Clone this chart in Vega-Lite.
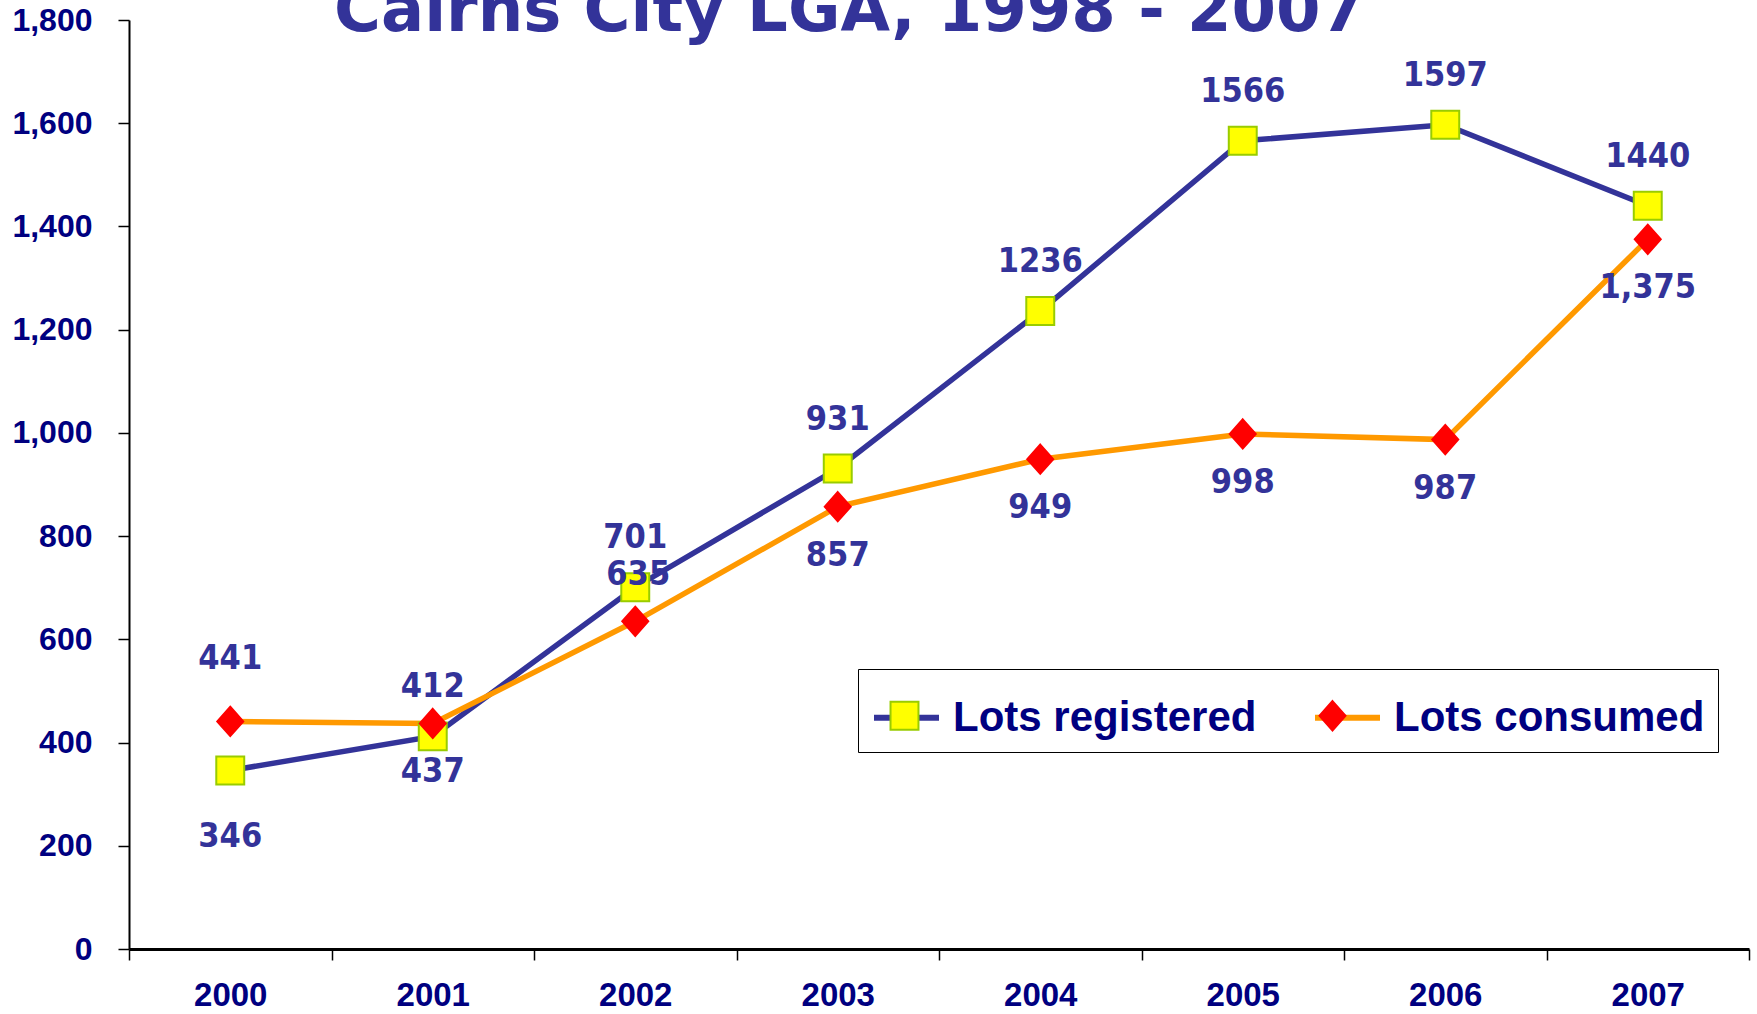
{
  "$schema": "https://vega.github.io/schema/vega-lite/v6.json",
  "autosize": "none",
  "width": 1620,
  "height": 929,
  "padding": {"left": 129, "top": 20, "right": 8, "bottom": 65},
  "background": "white",
  "title": {
    "text": "Cairns City LGA, 1998 - 2007",
    "font": "DejaVu Sans",
    "fontWeight": "bold",
    "fontSize": 64,
    "color": "#333399",
    "anchor": "start",
    "frame": "group",
    "baseline": "top",
    "offset": -40,
    "dx": 205
  },
  "config": {
    "view": {"stroke": null},
    "axis": {
      "grid": false,
      "title": null,
      "domainColor": "black",
      "tickColor": "black",
      "labelColor": "#000080",
      "labelFont": "Liberation Sans",
      "labelFontWeight": "bold"
    }
  },
  "data": {
    "values": [
      {"year": 2000, "series": "Lots registered", "value": 346},
      {"year": 2001, "series": "Lots registered", "value": 412},
      {"year": 2002, "series": "Lots registered", "value": 701},
      {"year": 2003, "series": "Lots registered", "value": 931},
      {"year": 2004, "series": "Lots registered", "value": 1236},
      {"year": 2005, "series": "Lots registered", "value": 1566},
      {"year": 2006, "series": "Lots registered", "value": 1597},
      {"year": 2007, "series": "Lots registered", "value": 1440},
      {"year": 2000, "series": "Lots consumed", "value": 441},
      {"year": 2001, "series": "Lots consumed", "value": 437},
      {"year": 2002, "series": "Lots consumed", "value": 635},
      {"year": 2003, "series": "Lots consumed", "value": 857},
      {"year": 2004, "series": "Lots consumed", "value": 949},
      {"year": 2005, "series": "Lots consumed", "value": 998},
      {"year": 2006, "series": "Lots consumed", "value": 987},
      {"year": 2007, "series": "Lots consumed", "value": 1375}
    ]
  },
  "encoding": {
    "x": {
      "field": "year",
      "type": "ordinal",
      "scale": {"type": "band", "paddingInner": 0, "paddingOuter": 0},
      "axis": {
        "labelAngle": 0,
        "tickBand": "extent",
        "domainWidth": 3,
        "tickWidth": 1.5,
        "tickSize": 11,
        "labelFontSize": 33,
        "labelPadding": 19
      }
    },
    "y": {
      "field": "value",
      "type": "quantitative",
      "scale": {"domain": [0, 1800], "nice": false},
      "axis": {
        "values": [0, 200, 400, 600, 800, 1000, 1200, 1400, 1600, 1800],
        "format": ",d",
        "domainWidth": 2,
        "tickWidth": 1.5,
        "tickSize": 11,
        "labelFontSize": 32,
        "labelPadding": 26
      }
    }
  },
  "layer": [
    {
      "mark": {"type": "line", "strokeWidth": 5.5},
      "encoding": {
        "color": {
          "field": "series",
          "type": "nominal",
          "sort": ["Lots registered", "Lots consumed"],
          "scale": {"range": ["#333399", "#FF9900"]},
          "legend": {
            "title": null,
            "orient": "none",
            "legendX": 729,
            "legendY": 649,
            "direction": "horizontal",
            "columns": 2,
            "padding": 13,
            "columnPadding": 46,
            "symbolType": "stroke",
            "symbolSize": 4225,
            "symbolStrokeWidth": 6,
            "labelOffset": 11,
            "labelFont": "Liberation Sans",
            "labelFontWeight": "bold",
            "labelFontSize": 42,
            "labelColor": "#000080",
            "labelLimit": 600,
            "strokeColor": "black",
            "fillColor": "transparent",
            "encode": {"legend": {"strokeWidth": {"value": 2}}}
          }
        }
      }
    },
    {
      "mark": {"type": "point", "filled": true, "strokeWidth": 2, "opacity": 1, "size": 4225},
      "encoding": {
        "fill": {
          "field": "series",
          "type": "nominal",
          "scale": {"domain": ["Lots registered", "Lots consumed"], "range": ["#FFFF00", "#FF0000"]},
          "legend": {
            "title": null,
            "orient": "none",
            "legendX": 729,
            "legendY": 649,
            "direction": "horizontal",
            "columns": 2,
            "padding": 13,
            "columnPadding": 46,
            "symbolSize": 4225,
            "symbolStrokeWidth": 2,
            "labelOffset": 11,
            "labelFont": "Liberation Sans",
            "labelFontWeight": "bold",
            "labelFontSize": 42,
            "labelOpacity": 0,
            "labelLimit": 600
          }
        },
        "stroke": {
          "field": "series",
          "type": "nominal",
          "scale": {"domain": ["Lots registered", "Lots consumed"], "range": ["#99CC00", "#FF0000"]},
          "legend": {
            "title": null,
            "orient": "none",
            "legendX": 729,
            "legendY": 649,
            "direction": "horizontal",
            "columns": 2,
            "padding": 13,
            "columnPadding": 46,
            "symbolSize": 4225,
            "symbolStrokeWidth": 2,
            "labelOffset": 11,
            "labelFont": "Liberation Sans",
            "labelFontWeight": "bold",
            "labelFontSize": 42,
            "labelOpacity": 0,
            "labelLimit": 600
          }
        },
        "shape": {
          "field": "series",
          "type": "nominal",
          "scale": {"domain": ["Lots registered", "Lots consumed"], "range": ["M-0.43,-0.43H0.43V0.43H-0.43Z", "M0,-0.45L0.4,0L0,0.45L-0.4,0Z"]},
          "legend": {
            "title": null,
            "orient": "none",
            "legendX": 729,
            "legendY": 649,
            "direction": "horizontal",
            "columns": 2,
            "padding": 13,
            "columnPadding": 46,
            "symbolSize": 4225,
            "symbolStrokeWidth": 2,
            "labelOffset": 11,
            "labelFont": "Liberation Sans",
            "labelFontWeight": "bold",
            "labelFontSize": 42,
            "labelOpacity": 0,
            "labelLimit": 600
          }
        }
      }
    },
    {
      "transform": [{"filter": "datum.series == 'Lots registered' && datum.year != 2000"}],
      "mark": {"type": "text", "font": "DejaVu Sans Condensed", "fontWeight": "bold", "fontSize": 34, "color": "#333399", "baseline": "middle", "dy": -49},
      "encoding": {"text": {"field": "value", "type": "quantitative", "format": "d"}}
    },
    {
      "transform": [{"filter": "datum.series == 'Lots registered' && datum.year == 2000"}],
      "mark": {"type": "text", "font": "DejaVu Sans Condensed", "fontWeight": "bold", "fontSize": 34, "color": "#333399", "baseline": "middle", "dy": 67},
      "encoding": {"text": {"field": "value", "type": "quantitative", "format": "d"}}
    },
    {
      "transform": [{"filter": "datum.series == 'Lots consumed' && datum.year != 2000 && datum.year != 2002"}],
      "mark": {"type": "text", "font": "DejaVu Sans Condensed", "fontWeight": "bold", "fontSize": 34, "color": "#333399", "baseline": "middle", "dy": 49},
      "encoding": {"text": {"field": "value", "type": "quantitative", "format": ",d"}}
    },
    {
      "transform": [{"filter": "datum.series == 'Lots consumed' && datum.year == 2000"}],
      "mark": {"type": "text", "font": "DejaVu Sans Condensed", "fontWeight": "bold", "fontSize": 34, "color": "#333399", "baseline": "middle", "dy": -62},
      "encoding": {"text": {"field": "value", "type": "quantitative", "format": ",d"}}
    },
    {
      "transform": [{"filter": "datum.series == 'Lots consumed' && datum.year == 2002"}],
      "mark": {"type": "text", "font": "DejaVu Sans Condensed", "fontWeight": "bold", "fontSize": 34, "color": "#333399", "baseline": "middle", "dy": -46, "dx": 3},
      "encoding": {"text": {"field": "value", "type": "quantitative", "format": ",d"}}
    }
  ]
}
